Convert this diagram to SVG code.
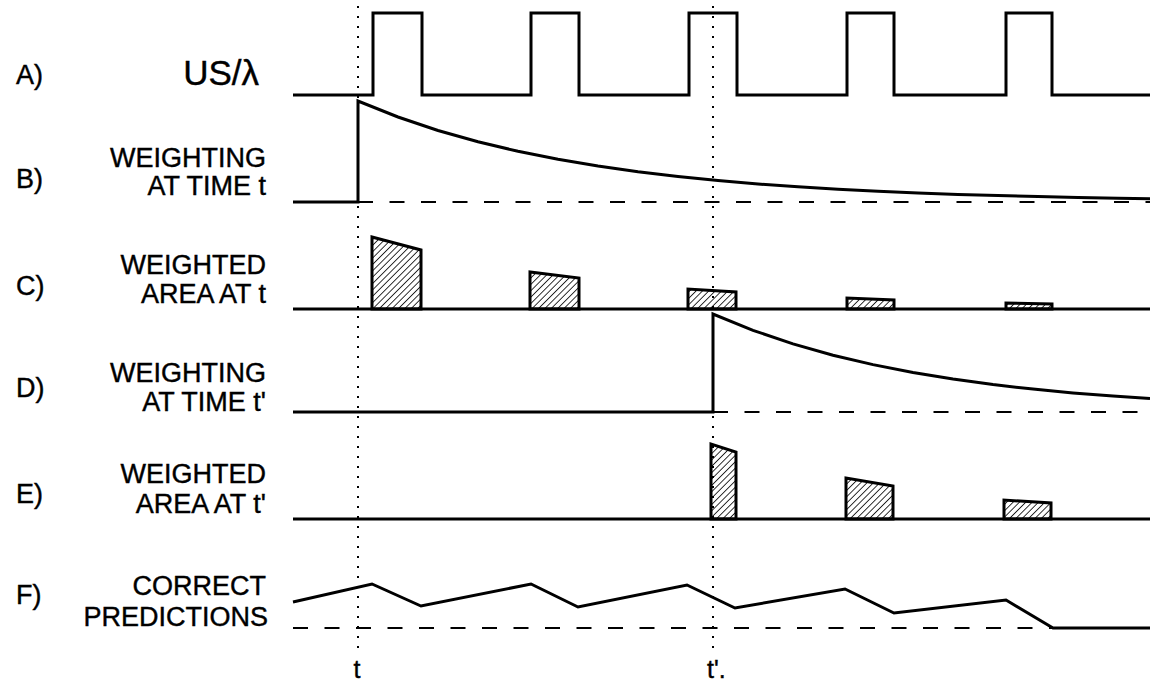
<svg xmlns="http://www.w3.org/2000/svg" width="1150" height="682" viewBox="0 0 1150 682">
<style>
.ln{fill:none;stroke:#000;stroke-width:3;stroke-linejoin:miter}
.dash{fill:none;stroke:#000;stroke-width:2;stroke-dasharray:15 16.5}
.dot{fill:none;stroke:#000;stroke-width:2;stroke-dasharray:2 8}
.hat{fill:url(#hatch);stroke:#000;stroke-width:3;stroke-linejoin:miter}
.lab{font-family:"Liberation Sans",Arial,sans-serif;font-size:27px;fill:#000;stroke:#000;stroke-width:0.4}
.r{text-anchor:end}
.big{font-size:35px}
.tm{font-size:25px}
</style>
<defs>
<pattern id="hatch" width="4.5" height="4.5" patternUnits="userSpaceOnUse" patternTransform="rotate(45)">
<line x1="0" y1="0" x2="0" y2="4.5" stroke="#000" stroke-width="1.6"/>
</pattern>
</defs>
<rect width="1150" height="682" fill="#fff"/>

<g id="markers">
<line class="dot" x1="358" y1="6" x2="358" y2="650"/>
<line class="dot" x1="713" y1="6" x2="713" y2="650"/>
<text class="lab tm" x="357" y="678" text-anchor="middle">t</text>
<text class="lab tm" x="707" y="678">t'.</text>
</g>

<g id="rowA">
<text class="lab" x="16" y="84">A)</text>
<text class="lab r big" x="259" y="85">US/λ</text>
<polyline class="ln" points="293,95 373,95 373,13 422,13 422,95 531,95 531,13 579,13 579,95 689,95 689,13 737,13 737,95 847,95 847,13 894,13 894,95 1006,95 1006,13 1052,13 1052,95 1150,95"/>
</g>

<g id="rowB">
<text class="lab" x="16" y="188">B)</text>
<text class="lab r" x="266" y="167">WEIGHTING</text>
<text class="lab r" x="266" y="195">AT TIME t</text>
<line class="dash" x1="358" y1="202" x2="1150" y2="202"/>
<path class="ln" d="M293,202 L358,202 L358,101 L398,117 L438,130.5 L478,141.8 L518,151.3 L558,159.3 L598,166.1 L638,171.8 L678,176.6 L718,180.6 L758,184 L798,186.8 L838,189.2 L878,191.3 L918,193 L958,194.4 L998,195.6 L1038,196.6 L1078,197.5 L1118,198.2 L1150,198.7"/>
</g>

<g id="rowC">
<text class="lab" x="16" y="295">C)</text>
<text class="lab r" x="266" y="274">WEIGHTED</text>
<text class="lab r" x="266" y="303">AREA AT t</text>
<line class="ln" x1="293" y1="309" x2="1150" y2="309"/>
<polygon class="hat" points="372,309 372,237 421,250 421,309"/>
<polygon class="hat" points="530,309 530,272 579,278 579,309"/>
<polygon class="hat" points="688,309 688,289 736,292 736,309"/>
<polygon class="hat" points="847,309 847,298 894,300 894,309"/>
<polygon class="hat" points="1006,309 1006,303 1052,304 1052,309"/>
</g>

<g id="rowD">
<text class="lab" x="16" y="397">D)</text>
<text class="lab r" x="266" y="382">WEIGHTING</text>
<text class="lab r" x="266" y="411">AT TIME t'</text>
<line class="dash" x1="713" y1="412" x2="1150" y2="412"/>
<path class="ln" d="M293,412 L713,412 L713,314 L753,330.3 L793,343.9 L833,355.2 L873,364.6 L913,372.5 L953,379.1 L993,384.6 L1033,389.1 L1073,392.9 L1113,396.1 L1150,398.6"/>
</g>

<g id="rowE">
<text class="lab" x="16" y="503">E)</text>
<text class="lab r" x="266" y="483">WEIGHTED</text>
<text class="lab r" x="266" y="513">AREA AT t'</text>
<line class="ln" x1="293" y1="519" x2="1150" y2="519"/>
<polygon class="hat" points="711,519 711,444 736,452 736,519"/>
<polygon class="hat" points="846,519 846,478 893,486 893,519"/>
<polygon class="hat" points="1004,519 1004,500 1051,503 1051,519"/>
</g>

<g id="rowF">
<text class="lab" x="16" y="604">F)</text>
<text class="lab r" x="266" y="595">CORRECT</text>
<text class="lab r" x="268" y="626">PREDICTIONS</text>
<line class="dash" x1="293" y1="628" x2="1053" y2="628"/>
<polyline class="ln" points="293,602 372,584 421,606 531,584 578,607 687,585 735,608 845,589 894,613 1006,600 1053,628 1150,628"/>
</g>
</svg>
